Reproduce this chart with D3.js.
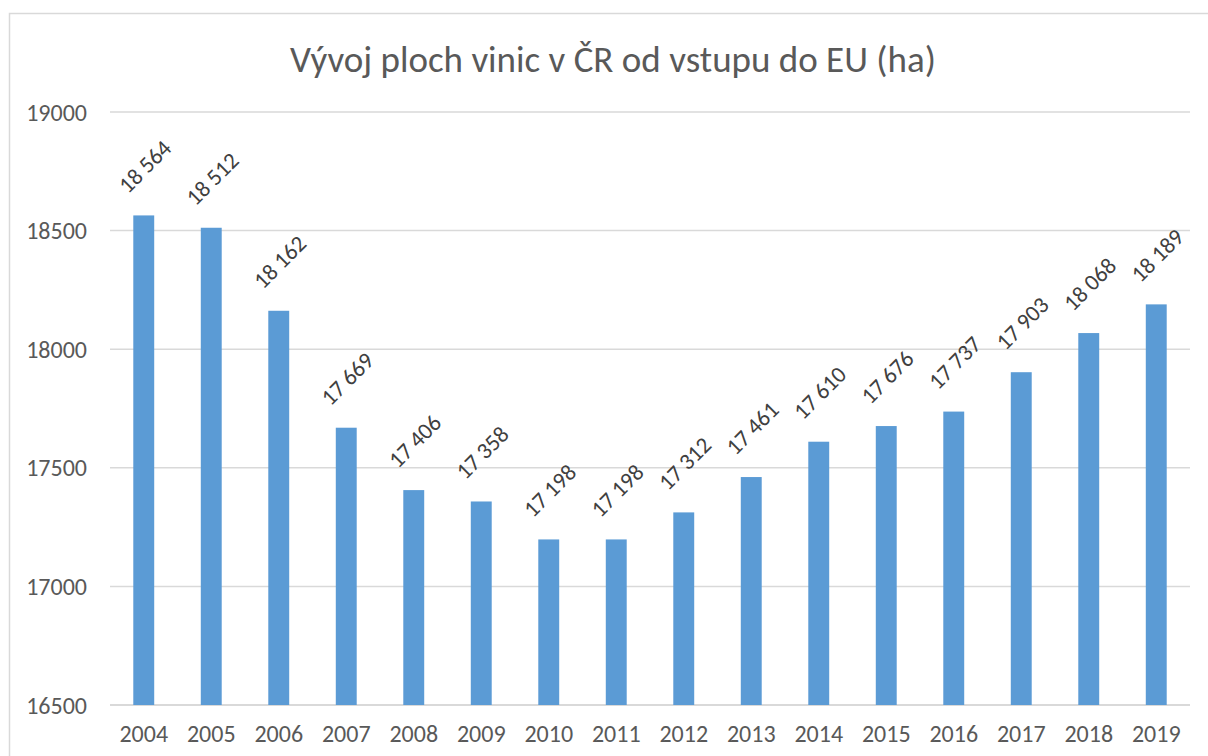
<!DOCTYPE html>
<html>
<head>
<meta charset="utf-8">
<script src="https://cdn.jsdelivr.net/npm/d3@7"></script>
<style>
  body { margin: 0; background: #fff; }
  svg { display: block; font-family: Carlito, Calibri, Lato, "Open Sans", sans-serif; }
</style>
</head>
<body>
<div id="chart"></div>
<script>
// data
const years = ["2004","2005","2006","2007","2008","2009","2010","2011","2012","2013","2014","2015","2016","2017","2018","2019"];
const area = [18564,18512,18162,17669,17406,17358,17198,17198,17312,17461,17610,17676,17737,17903,18068,18189];
const yTicks = [16500,17000,17500,18000,18500,19000];

const width = 1208, height = 756;
const margin = {left: 110, right: 18, top: 112, bottom: 51};

const svg = d3.select("#chart").append("svg")
  .attr("width", width).attr("height", height);

// chart frame
svg.append("rect")
  .attr("x", 9.5).attr("y", 13.5)
  .attr("width", 1210).attr("height", 760)
  .attr("fill", "#fff").attr("stroke", "#d9d9d9").attr("stroke-width", 1.5);

const x = d3.scaleBand()
  .domain(years)
  .range([margin.left, width - margin.right])
  .paddingInner(0.69).paddingOuter(0.345);

const y = d3.scaleLinear()
  .domain([16500, 19000])
  .range([height - margin.bottom, margin.top]);

// title
svg.append("text")
  .attr("x", 613).attr("y", 72)
  .attr("text-anchor", "middle")
  .attr("font-size", 37)
  .attr("fill", "#595959")
  .text("Vývoj ploch vinic v ČR od vstupu do EU (ha)");

// gridlines
svg.append("g")
  .selectAll("line")
  .data(yTicks)
  .enter().append("line")
  .attr("x1", margin.left).attr("x2", width - margin.right)
  .attr("y1", d => y(d)).attr("y2", d => y(d))
  .attr("stroke", "#d9d9d9")
  .attr("stroke-width", d => d === 16500 ? 2 : 1.5);

// y labels
svg.append("g")
  .selectAll("text")
  .data(yTicks)
  .enter().append("text")
  .attr("x", 87).attr("y", d => y(d))
  .attr("text-anchor", "end")
  .attr("dominant-baseline", "central")
  .attr("font-size", 24)
  .attr("fill", "#595959")
  .text(d => d);

// bars
svg.append("g")
  .selectAll("rect")
  .data(area)
  .enter().append("rect")
  .attr("x", (d, i) => x(years[i]))
  .attr("width", x.bandwidth())
  .attr("y", d => y(d))
  .attr("height", d => y(16500) - y(d))
  .attr("fill", "#5b9bd5");

// x labels
svg.append("g")
  .selectAll("text")
  .data(years)
  .enter().append("text")
  .attr("x", d => x(d) + x.bandwidth() / 2)
  .attr("y", 742)
  .attr("text-anchor", "middle")
  .attr("font-size", 24)
  .attr("fill", "#595959")
  .text(d => d);

// value labels, rotated
const fmt = v => d3.format(",")(v).replace(",", " ");
svg.append("g")
  .selectAll("text")
  .data(area)
  .enter().append("text")
  .attr("transform", (d, i) => `translate(${x(years[i]) + x.bandwidth() / 2 + 1}, ${y(d) - 49}) rotate(-45)`)
  .attr("text-anchor", "middle")
  .attr("dominant-baseline", "central")
  .attr("font-size", 23)
  .attr("fill", "#404040")
  .text(d => fmt(d));
</script>
</body>
</html>
